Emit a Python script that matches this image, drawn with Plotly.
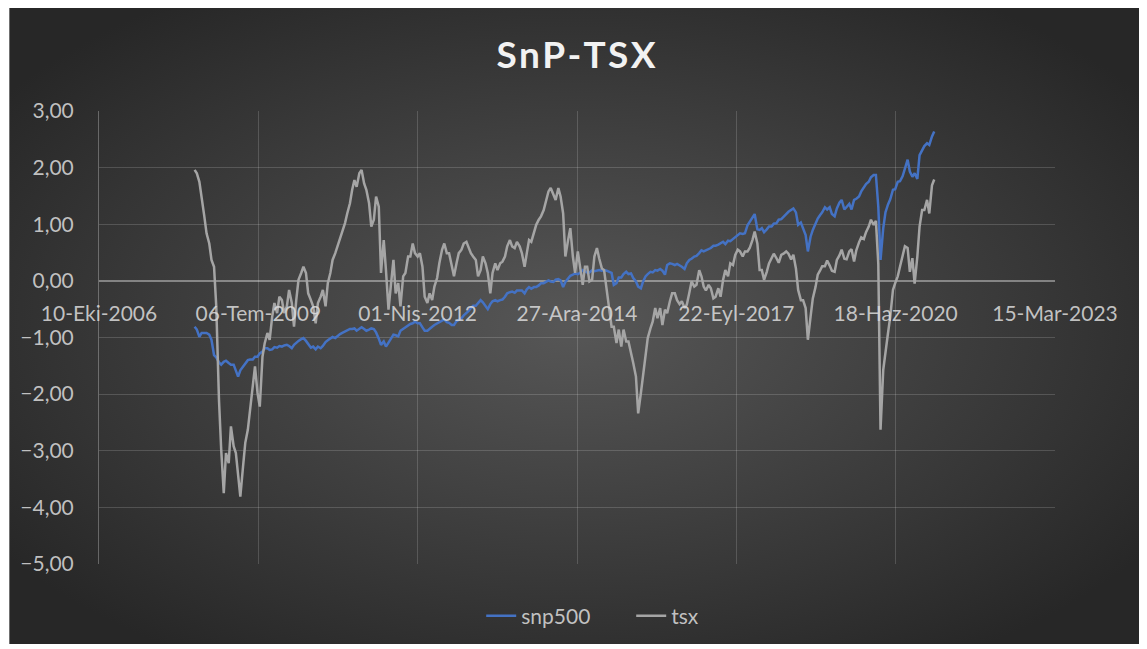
import base64
import pandas as pd
import plotly.graph_objects as go

# values, one every half month from 2008-06-01
snp500 = [
    -0.81, -0.86, -0.99, -0.92, -0.92, -0.92, -0.95, -1.04, -1.31, -1.35,
    -1.44, -1.48, -1.43, -1.41, -1.45, -1.48, -1.48, -1.57, -1.69, -1.58,
    -1.51, -1.46, -1.40, -1.39, -1.39, -1.34, -1.34, -1.28, -1.25, -1.19,
    -1.19, -1.22, -1.21, -1.17, -1.18, -1.15, -1.16, -1.14, -1.13, -1.15,
    -1.19, -1.13, -1.09, -1.06, -1.03, -1.01, -1.06, -1.11, -1.18, -1.16,
    -1.21, -1.16, -1.19, -1.15, -1.08, -1.05, -1.02, -0.99, -1.01, -0.97,
    -0.94, -0.92, -0.89, -0.87, -0.85, -0.85, -0.84, -0.88, -0.85, -0.82,
    -0.85, -0.88, -0.86, -0.84, -0.85,
    -0.91, -1.02, -1.13, -1.07, -1.16, -1.09, -1.02, -0.95, -0.96, -0.98,
    -0.88, -0.85, -0.81, -0.79, -0.76, -0.75, -0.72, -0.75, -0.75, -0.82,
    -0.88, -0.88, -0.84, -0.81, -0.78, -0.75, -0.72, -0.69, -0.68, -0.73,
    -0.74, -0.78, -0.78, -0.71, -0.68, -0.66, -0.61, -0.57, -0.53, -0.48,
    -0.44, -0.44, -0.39, -0.34, -0.38, -0.46, -0.50, -0.41, -0.36, -0.34,
    -0.36, -0.34, -0.33, -0.28, -0.22, -0.20, -0.19, -0.21, -0.17, -0.17,
    -0.17, -0.22, -0.15, -0.11, -0.14, -0.11, -0.11, -0.08, -0.04, -0.04,
    -0.01, 0.01, -0.01, -0.02, 0.02, 0.03, 0.01,
    -0.11, -0.02, 0.05, 0.09, 0.11, 0.13, 0.12, 0.14, 0.19, 0.17,
    0.15, 0.15, 0.19, 0.17, 0.18, 0.19, 0.18, 0.19, 0.18, 0.16,
    0.14, -0.07, -0.04, 0.06, 0.06, 0.12, 0.16, 0.12, 0.13, 0.05,
    -0.01, -0.10, -0.13, -0.01, 0.08, 0.12, 0.16, 0.15, 0.19, 0.18,
    0.21, 0.18, 0.11, 0.28, 0.31, 0.30, 0.28, 0.30, 0.28, 0.25,
    0.21, 0.31, 0.37, 0.39, 0.43, 0.44, 0.49, 0.54, 0.52, 0.54,
    0.56, 0.58, 0.62, 0.62, 0.64, 0.66, 0.69, 0.65, 0.71, 0.70,
    0.74, 0.78, 0.82, 0.84, 0.83, 0.84,
    0.98, 1.05, 1.11, 1.18, 0.91, 0.90, 0.93, 0.86, 0.91, 0.96,
    0.96, 1.01, 1.02, 1.08, 1.09, 1.14, 1.18, 1.22, 1.26, 1.28,
    1.21, 0.99, 1.03, 0.93, 0.81, 0.52, 0.78, 0.90, 1.02, 1.10,
    1.16, 1.21, 1.30, 1.26, 1.30, 1.18, 1.14, 1.28, 1.38, 1.43,
    1.26, 1.30, 1.36, 1.26, 1.43, 1.45, 1.49, 1.58, 1.66, 1.71,
    1.75, 1.83, 1.87, 1.87, 1.31, 0.37, 0.93, 1.21, 1.35, 1.44,
    1.61, 1.62, 1.75, 1.76, 1.85, 2.00, 2.14, 1.93, 1.84, 1.90,
    1.80, 2.22, 2.31, 2.38, 2.43, 2.40, 2.55, 2.64,
]

tsx = [
    1.96, 1.90, 1.75, 1.43, 1.14, 0.84, 0.66, 0.37, 0.25, -0.45,
    -2.10, -2.98, -3.75, -3.04, -3.22, -2.57, -2.92, -3.04, -3.39, -3.81,
    -3.28, -2.86, -2.63, -2.28, -1.86, -1.51, -1.98, -2.22, -1.34, -1.10,
    -0.92, -1.04, -0.63, -0.39, -0.57, -0.28, -0.34, -0.57, -0.45, -0.16,
    -0.39, -0.81, -0.34, 0.02, 0.14, 0.25, 0.14, -0.22, -0.34, -0.45,
    -0.75, -0.39, -0.28, -0.16, -0.45, -0.04, 0.14, 0.37, 0.49, 0.61,
    0.78, 0.90, 1.02, 1.19, 1.37, 1.61, 1.78, 1.66, 1.90, 1.96,
    1.72, 1.61, 1.37, 0.96, 1.08,
    1.49, 1.31, 0.14, 0.72, 0.19, -0.51, -0.10, 0.37, -0.22, -0.04,
    -0.45, 0.08, 0.14, 0.43, 0.43, 0.66, 0.49, 0.43, 0.49, 0.25,
    -0.28, -0.39, -0.22, -0.34, -0.10, 0.05, 0.31, 0.55, 0.66, 0.49,
    0.49, 0.28, 0.08, 0.31, 0.49, 0.55, 0.66, 0.69, 0.58, 0.49,
    0.43, 0.37, 0.08, 0.19, 0.43, 0.31, 0.14, -0.22, 0.14, 0.31,
    0.19, 0.31, 0.34, 0.43, 0.61, 0.72, 0.61, 0.58, 0.69, 0.61,
    0.49, 0.25, 0.49, 0.72, 0.69, 0.84, 0.99, 1.08, 1.14, 1.25,
    1.43, 1.58, 1.64, 1.52, 1.43, 1.64, 1.49,
    1.19, 0.43, 0.72, 0.93, 0.43, 0.14, 0.52, 0.25, -0.07, 0.25,
    0.25, -0.01, 0.02, 0.43, 0.58, 0.40, 0.22, 0.19, -0.16, -0.45,
    -0.81, -0.81, -1.10, -0.86, -1.16, -0.86, -1.07, -1.07, -1.31, -1.45,
    -1.69, -2.34, -1.98, -1.63, -1.31, -1.01, -0.84, -0.72, -0.48, -0.66,
    -0.48, -0.78, -0.51, -0.57, -0.36, -0.22, -0.22, -0.34, -0.41, -0.36,
    -0.48, -0.42, -0.21, -0.01, -0.10, -0.07, 0.19, 0.08, -0.10, -0.17,
    -0.07, -0.13, -0.31, -0.28, -0.13, -0.28, 0.02, 0.19, 0.08, 0.31,
    0.28, 0.46, 0.55, 0.52, 0.43, 0.52,
    0.52, 0.58, 0.72, 0.87, 0.66, 0.19, 0.19, 0.02, 0.16, 0.31,
    0.40, 0.48, 0.40, 0.32, 0.46, 0.48, 0.52, 0.48, 0.38, 0.46,
    0.22, -0.16, -0.34, -0.34, -0.48, -1.04, -0.63, -0.31, -0.11, 0.11,
    0.18, 0.26, 0.26, 0.36, 0.27, 0.18, 0.16, 0.37, 0.45, 0.55,
    0.39, 0.38, 0.52, 0.56, 0.34, 0.54, 0.68, 0.77, 0.74, 0.86,
    0.96, 1.08, 0.99, 1.06, 0.30, -2.63, -1.57, -1.22, -0.92, -0.63,
    -0.16, -0.04, 0.08, 0.25, 0.43, 0.61, 0.58, 0.16, 0.40, -0.05,
    0.43, 0.96, 1.25, 1.25, 1.43, 1.19, 1.69, 1.79,
]

tick_dates = ["2006-10-10", "2009-07-06", "2012-04-01", "2014-12-27",
              "2017-09-22", "2020-06-18", "2023-03-15"]
tick_labels = ["10-Eki-2006", "06-Tem-2009", "01-Nis-2012", "27-Ara-2014",
               "22-Eyl-2017", "18-Haz-2020", "15-Mar-2023"]
y_ticks = [-5, -4, -3, -2, -1, 0, 1, 2, 3]

snp_dates = pd.date_range("2008-06-01", periods=len(snp500), freq="SMS")
tsx_dates = pd.date_range("2008-06-01", periods=len(tsx), freq="SMS")

FONT = "Lato, 'Open Sans', sans-serif"
LABEL = "rgba(220,220,220,0.85)"

# the page has an 8px body margin, so the figure is laid out 8px smaller
W, H = 1139, 641
L, T, PW, PH = 89, 103, 958, 453

# dark radial background like the Excel chart style
svg = (
    '<svg xmlns="http://www.w3.org/2000/svg" width="1133" height="638" '
    'viewBox="0 0 1133 638" preserveAspectRatio="none">'
    '<defs><radialGradient id="g" cx="50%" cy="50%" r="62%">'
    '<stop offset="0" stop-color="#575757"/>'
    '<stop offset="1" stop-color="#272727"/>'
    '</radialGradient></defs>'
    '<rect width="1133" height="638" fill="url(#g)"/></svg>'
)
bg_src = "data:image/svg+xml;base64," + base64.b64encode(svg.encode()).decode()

fig = go.Figure()
fig.add_trace(go.Scatter(x=snp_dates, y=snp500, name="snp500", mode="lines",
                         line=dict(color="#4472C4", width=2.5)))
fig.add_trace(go.Scatter(x=tsx_dates, y=tsx, name="tsx", mode="lines",
                         line=dict(color="#A5A5A5", width=2.5)))

fig.update_layout(
    width=W, height=H,
    margin=dict(l=L, r=W - L - PW, t=T, b=H - T - PH),
    paper_bgcolor="white",
    plot_bgcolor="rgba(0,0,0,0)",
    separators=",.",
    font=dict(family=FONT, size=21, color=LABEL),
    title=dict(text="<b>S\u200an\u200aP\u200a-\u200aT\u200aS\u200aX</b>",
               x=568 / W, xanchor="center",
               y=1 - 47 / H, yanchor="middle",
               font=dict(family=FONT, size=37, color="#f2f2f2")),
    showlegend=True,
    legend=dict(orientation="h", x=(472 - L) / PW, xanchor="left",
                y=-0.115, yanchor="middle", font=dict(size=21, color=LABEL),
                entrywidth=105, entrywidthmode="pixels",
                bgcolor="rgba(0,0,0,0)"),
    images=[dict(source=bg_src, xref="paper", yref="paper",
                 x=(-1 - L) / PW, y=(T + PH + 2) / PH,
                 sizex=1133 / PW, sizey=638 / PH,
                 xanchor="left", yanchor="top", sizing="stretch",
                 layer="below")],
)

fig.update_xaxes(
    type="date",
    range=[tick_dates[0], tick_dates[-1]],
    tickvals=tick_dates, ticktext=tick_labels,
    anchor="free", position=0.625,
    showgrid=True, gridcolor="rgba(255,255,255,0.16)", gridwidth=1,
    showline=False, zeroline=False,
    ticks="outside", ticklen=14, tickcolor="rgba(0,0,0,0)",
    tickfont=dict(family=FONT, size=21, color=LABEL),
)
fig.update_yaxes(
    range=[-5, 3], tickvals=y_ticks, tickformat=".2f",
    showgrid=True, gridcolor="rgba(255,255,255,0.16)", gridwidth=1,
    zeroline=True, zerolinecolor="rgba(255,255,255,0.38)", zerolinewidth=1.5,
    showline=True, linecolor="rgba(255,255,255,0.28)", linewidth=1,
    ticks="outside", ticklen=20, tickcolor="rgba(0,0,0,0)",
    tickfont=dict(family=FONT, size=21, color=LABEL),
)

fig.write_html("out.html")
